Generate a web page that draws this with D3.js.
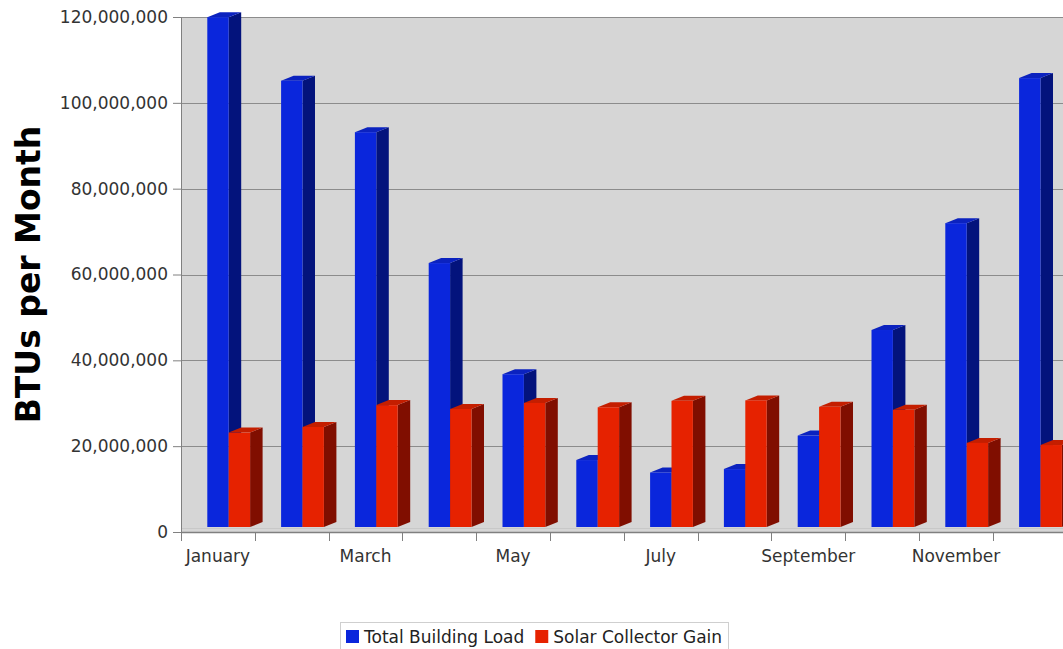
<!DOCTYPE html>
<html>
<head>
<meta charset="utf-8">
<script src="https://cdn.jsdelivr.net/npm/d3@7/dist/d3.min.js"></script>
<style>
  html, body { margin: 0; padding: 0; background: #fff; }
  svg { display: block; font-family: "DejaVu Sans", Verdana, sans-serif; }
</style>
</head>
<body>
<svg id="chart" width="1063" height="649"></svg>
<script>
const months = ["January","February","March","April","May","June","July","August","September","October","November","December"];
const shownMonthLabels = ["January","March","May","July","September","November"];
const seriesNames = ["Total Building Load", "Solar Collector Gain"];
const totalBuildingLoad = [118.8e6, 104.0e6, 92.0e6, 61.5e6, 35.6e6, 15.6e6, 12.7e6, 13.5e6, 21.3e6, 45.9e6, 70.8e6, 104.6e6];
const solarCollectorGain = [22.0e6, 23.3e6, 28.4e6, 27.5e6, 28.9e6, 27.9e6, 29.4e6, 29.5e6, 28.0e6, 27.3e6, 19.6e6, 19.1e6];
const yTicks = [0, 20e6, 40e6, 60e6, 80e6, 100e6, 120e6];

(function () {
const svg = d3.select("#chart");
const pLeft = 181, pTop = 17, pBottom = 532;
const catW = 73.8;
const depthX = 12.5, depthY = 5;
const fs = "17px";

const y = d3.scaleLinear().domain([0, 120e6]).range([pBottom, pTop]);
const x = d3.scaleBand().domain(months).range([pLeft, pLeft + catW * months.length]).padding(0);
const inner = d3.scaleBand().domain(seriesNames).range([0, 42.8]).padding(0);
const groupOffset = 26.3;

const colors = {
  "Total Building Load": {front: "#0a26dc", side: "#03137c", top: "#0b22bf"},
  "Solar Collector Gain": {front: "#e62200", side: "#800e00", top: "#c41e00"}
};

// plot background
svg.append("rect").attr("x", pLeft).attr("y", pTop).attr("width", 1063 - pLeft + 10).attr("height", pBottom - pTop)
  .attr("fill", "#d6d6d6");
svg.append("line").attr("x1", pLeft).attr("x2", 1063).attr("y1", pTop + 0.5).attr("y2", pTop + 0.5)
  .attr("stroke", "#9a9a9a").attr("stroke-width", 1);

// gridlines
svg.append("g").selectAll("line").data(yTicks.slice(1)).join("line")
  .attr("x1", pLeft).attr("x2", 1063)
  .attr("y1", d => Math.round(y(d)) + 0.5).attr("y2", d => Math.round(y(d)) + 0.5)
  .attr("stroke", "#8c8c8c").attr("stroke-width", 1);

// floor line
svg.append("line").attr("x1", pLeft).attr("x2", 1063).attr("y1", pBottom - 3.5).attr("y2", pBottom - 3.5)
  .attr("stroke", "#c8c8c8").attr("stroke-width", 1);

// bars
const data = [];
months.forEach((m, i) => {
  data.push({m, s: seriesNames[0], v: totalBuildingLoad[i]});
  data.push({m, s: seriesNames[1], v: solarCollectorGain[i]});
});
const bw = inner.bandwidth();
const barG = svg.append("g");
data.forEach(d => {
  const x0 = x(d.m) + groupOffset + inner(d.s);
  const x1 = x0 + bw;
  const yt = y(d.v) - depthY;
  const yb = y(0) - depthY;
  const c = colors[d.s];
  const g = barG.append("g");
  g.append("path").attr("d", `M${x1},${yb}L${x1 + depthX},${yb - depthY}L${x1 + depthX},${yt - depthY}L${x1},${yt}Z`)
    .attr("fill", c.side);
  g.append("path").attr("d", `M${x0},${yt}L${x0 + depthX},${yt - depthY}L${x1 + depthX},${yt - depthY}L${x1},${yt}Z`)
    .attr("fill", c.top);
  g.append("rect").attr("x", x0).attr("y", yt).attr("width", bw).attr("height", yb - yt)
    .attr("fill", c.front);
});

// y axis
const yAxis = svg.append("g").attr("transform", `translate(${pLeft},0)`)
  .call(d3.axisLeft(y).tickValues(yTicks).tickFormat(d3.format(",")).tickSize(8).tickPadding(5));
yAxis.select(".domain").attr("stroke", "#808080");
yAxis.selectAll(".tick line").attr("stroke", "#808080");
yAxis.selectAll("text").attr("font-size", fs).attr("fill", "#333").attr("font-family", "DejaVu Sans");

// x axis
const xAxis = svg.append("g").attr("transform", `translate(0,${pBottom})`)
  .call(d3.axisBottom(x).tickSize(0).tickSizeOuter(0).tickPadding(18)
    .tickFormat(d => shownMonthLabels.includes(d) ? d : ""));
xAxis.select(".domain").attr("stroke", "#808080").attr("stroke-width", 1.5);
xAxis.selectAll("text").attr("font-size", fs).attr("fill", "#333").attr("font-family", "DejaVu Sans");
svg.append("g").selectAll("line").data(months).join("line")
  .attr("x1", d => Math.round(x(d)) + 0.5).attr("x2", d => Math.round(x(d)) + 0.5)
  .attr("y1", pBottom).attr("y2", pBottom + 9)
  .attr("stroke", "#808080");

// y label
svg.append("text").attr("transform", `translate(40,${(pTop + pBottom) / 2}) rotate(-90)`)
  .attr("text-anchor", "middle").attr("font-size", "33px").attr("font-weight", "bold").attr("fill", "#000")
  .text("BTUs per Month");

// legend
const lg = svg.append("g");
lg.append("rect").attr("x", 340.5).attr("y", 622.5).attr("width", 388).attr("height", 30)
  .attr("fill", "#fff").attr("stroke", "#cfcfcf");
let lx = 346;
seriesNames.forEach(s => {
  lg.append("rect").attr("x", lx).attr("y", 630).attr("width", 13).attr("height", 13).attr("fill", colors[s].front);
  const t = lg.append("text").attr("x", lx + 18).attr("y", 643).attr("font-size", fs).attr("fill", "#222").text(s);
  lx += 18 + t.node().getComputedTextLength() + 11;
});
})();
</script>
</body>
</html>
